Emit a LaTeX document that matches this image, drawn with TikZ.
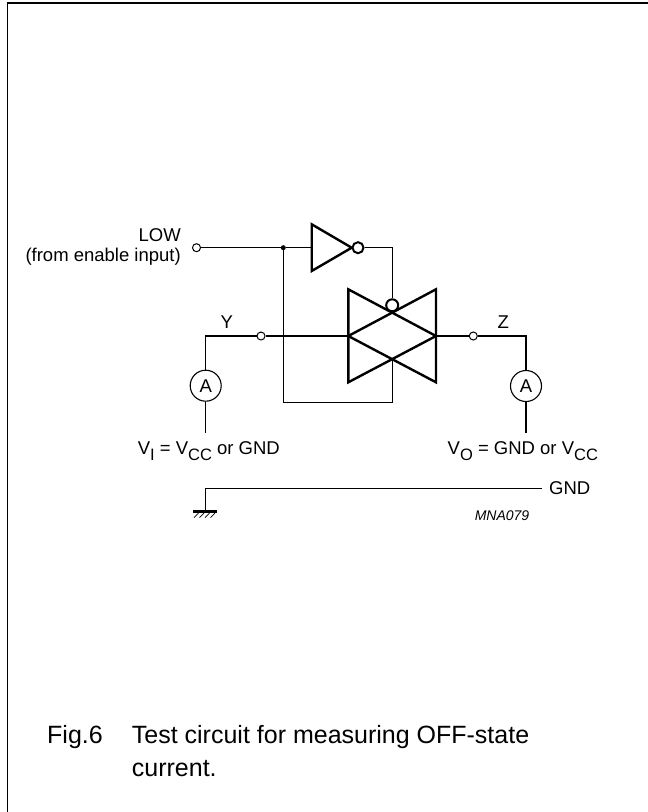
\documentclass[tikz,border=0pt]{standalone}
\usepackage{fontspec}
\setmainfont{Liberation Sans}
\usetikzlibrary{arrows.meta}
\newcommand{\subtxt}[1]{\raisebox{-6.5pt}{\fontsize{16.5}{16.5}\selectfont #1}}
\tikzset{
	wire/.style={line width=1.1pt},
	gate/.style={line width=2.4pt, line join=miter},
	term/.style={draw=black, fill=white, shape=circle, inner sep=0pt, minimum size=8pt, line width=1pt},
	bubble/.style={draw=black, fill=white, shape=circle, inner sep=0pt, minimum size=11pt, line width=2pt},
	meter/.style={draw=black, fill=white, shape=circle, inner sep=0pt, minimum size=31pt, line width=1.1pt, font=\fontsize{18.5}{20}\selectfont},
	lbl/.style={font=\fontsize{18.5}{20}\selectfont, inner sep=0pt},
	caption/.style={font=\fontsize{25}{33}\selectfont, inner sep=0pt, anchor=base west},
	dot/.style={fill=black, shape=circle, inner sep=0pt, minimum size=5pt}
}
\begin{document}
\begin{tikzpicture}[x=1pt, y=-1pt]
	\useasboundingbox (0,0) rectangle (648,812);
	\draw [line width=1.5pt] (7.5,812) -- (7.5,3) -- (648,3);

	\node [term] (low) at (196.5,247.7) {};
	\node [lbl, align=right, anchor=east] (lowtxt) at (181,247) {LOW\\(from enable input)};
	\node [dot] (j) at (283.3,247.7) {};
	\coordinate (invin) at (311.7,247.7);
	\draw [gate] (311.7,224.3) -- (351.7,247.7) -- (311.7,271) -- cycle;
	\node [bubble] (nb1) at (358,247.7) {};

	\coordinate (tgl) at (348.3,336);
	\coordinate (tgr) at (436,336);
	\coordinate (tgb) at (392.2,359.2);
	\draw [gate] (348.3,289.3) -- (436,336) -- (348.3,382.3) -- cycle;
	\draw [gate] (436,289.3) -- (348.3,336) -- (436,382.3) -- cycle;
	\node [bubble, minimum size=12pt] (nb2) at (392.2,305.3) {};

	\coordinate (lp) at (283.3,402.7);
	\draw [wire] (low) -- (j) -- (invin);
	\draw [wire] (nb1) -| (nb2);
	\draw [wire] (tgb) |- (lp) -- (j);

	\node [term] (y) at (261,336) {};
	\coordinate (yc) at (205.7,336);
	\node [meter] (am1) at (205.7,385.7) {A};
	\coordinate (ye) at (205.7,432.5);
	\draw [wire] (tgl) -- (y) -- (yc) -- (am1) -- (ye);

	\node [term] (z) at (473.3,336) {};
	\coordinate (zc) at (526,336);
	\node [meter] (am2) at (526,386) {A};
	\coordinate (ze) at (526,432.5);
	\draw [wire] (tgr) -- (z) -- (zc) -- (am2) -- (ze);

	\node [lbl] (ytxt) at (226.7,322) {Y};
	\node [lbl] (ztxt) at (503.3,322) {Z};
	\node [lbl, anchor=base east] (vitxt) at (280,454) {V\subtxt{I} = V\subtxt{CC} or GND};
	\node [lbl, anchor=base west] (votxt) at (447.5,454) {V\subtxt{O} = GND or V\subtxt{CC}};

	\coordinate (ge) at (541.7,488.3);
	\coordinate (gc) at (205.7,488.3);
	\coordinate (gb) at (205.7,510.5);
	\node [lbl, anchor=west] (gnd) at (549,488.3) {GND};
	\draw [wire] (ge) -- (gc) -- (gb);
	\draw [line width=3pt] (193.3,511.5) -- (216.7,511.5);
	\foreach \i in {0,1,2,3}
		\draw [line width=0.7pt] (194+\i*5.5,517.5) -- (198.5+\i*5.5,513);
	\node [inner sep=0pt, font=\fontsize{14}{14}\selectfont\itshape] (code) at (502,516) {MNA079};

	\node [caption] (fig) at (47,743) {Fig.6};
	\node [caption] (cap1) at (131.7,743) {Test circuit for measuring OFF-state};
	\node [caption] (cap2) at (131.7,776) {current.};
\end{tikzpicture}
\end{document}
